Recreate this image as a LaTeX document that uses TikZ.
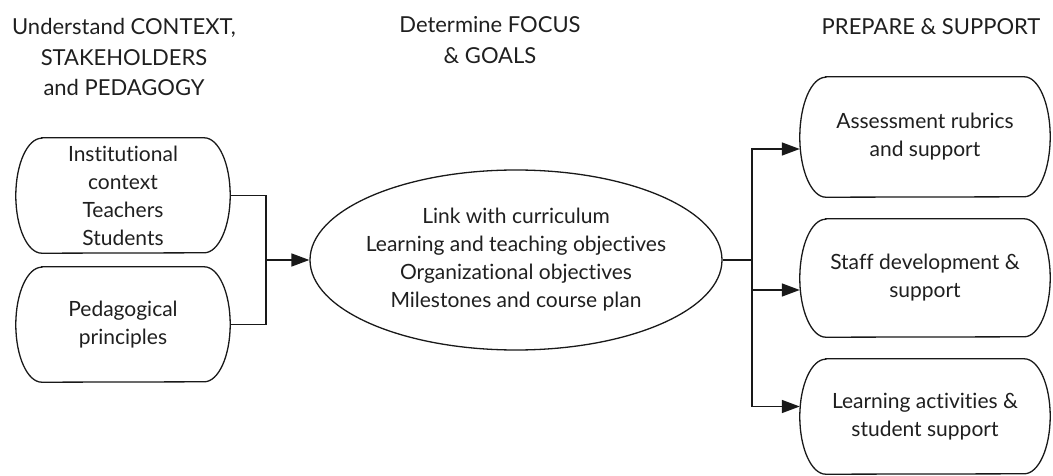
\documentclass[tikz,border=0pt]{standalone}
\usepackage{fontspec}
\setmainfont{Lato}[Ligatures={NoCommon}]
\usetikzlibrary{arrows.meta,shapes.geometric}
\tikzset{
  txt/.style={font=\fontsize{21}{28}\selectfont, align=center, text=black!88},
  hdr/.style={font=\fontsize{22}{30.5}\selectfont, align=center, text=black!88},
  boxn/.style={txt, draw=none, shape=rectangle, inner sep=0pt, minimum width=#1},
  shapeline/.style={line width=1.3pt, black!90},
  conn/.style={line width=1.6pt, black!90},
  arr/.style={conn, -{Triangle[length=18pt,width=13pt]}},
}
\newcommand\termshape[2]{%
  \draw[shapeline] ([xshift=26pt]#1.north west) -- ([xshift=-26pt]#1.north east)
    arc[start angle=90,end angle=-90,x radius=26pt,y radius=#2pt]
    -- ([xshift=26pt]#1.south west)
    arc[start angle=270,end angle=90,x radius=26pt,y radius=#2pt] -- cycle;}
\begin{document}
\begin{tikzpicture}[x=1pt,y=-1pt]
  \useasboundingbox (0,0) rectangle (1053,476);
  % headers
  \node[hdr] (h1) at (124,57) {Understand CONTEXT,\\STAKEHOLDERS\\and PEDAGOGY};
  \node[hdr] (h2) at (490,40) {Determine FOCUS\\\& GOALS};
  \node[hdr] (h3) at (931,27) {PREPARE \& SUPPORT};
  % left boxes
  \node[boxn=214pt, minimum height=115pt] (A) at (123,195.5) {Institutional\\context\\Teachers\\Students};
  \node[boxn=214pt, minimum height=115pt] (B) at (123,324.5) {Pedagogical\\principles};
  \termshape{A}{57.5}
  \termshape{B}{57.5}
  % ellipse
  \node[shape=ellipse, draw, shapeline, inner sep=0pt,
        minimum width=412pt, minimum height=180pt] (F) at (516,260) {};
  \node[txt] (FT) at (F.center)
        {Link with curriculum\\Learning and teaching objectives\\Organizational objectives\\Milestones and course plan};
  % right boxes
  \node[boxn=250pt, minimum height=120pt] (C) at (925,137) {Assessment rubrics\\and support};
  \node[boxn=250pt, minimum height=118pt] (D) at (925,278) {Staff development \&\\support};
  \node[boxn=250pt, minimum height=115pt] (E) at (925,416.5) {Learning activities \&\\student support};
  \termshape{C}{60}
  \termshape{D}{59}
  \termshape{E}{57.5}
  % connectors
  \coordinate (jl) at (266,260);
  \coordinate (jr) at (752,260);
  \draw[conn] (A.east) -| (jl);
  \draw[conn] (B.east) -| (jl);
  \draw[arr] (jl) -- (F.west);
  \draw[conn] (F.east) -- (jr);
  \draw[arr] (jr) |- ([yshift=-12pt]C.west);
  \draw[arr] (jr) |- ([yshift=-12pt]D.west);
  \draw[arr] (jr) |- ([yshift=10pt]E.west);
\end{tikzpicture}
\end{document}
